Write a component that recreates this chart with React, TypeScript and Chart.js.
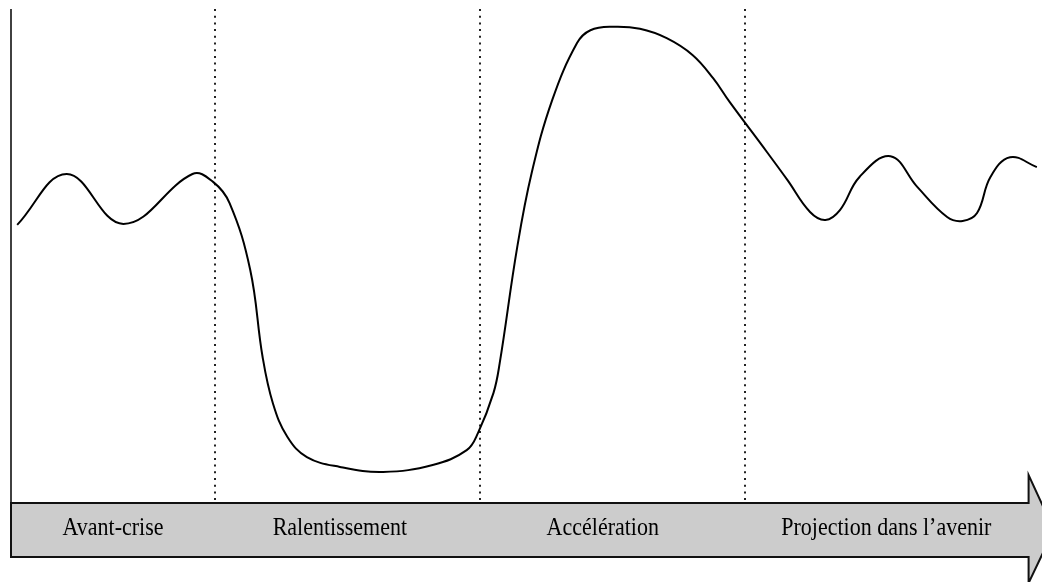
import React, { useEffect, useRef } from "react";
import { Chart, registerables } from "chart.js";

Chart.register(...registerables);

// Time axis (0–100) and activity level (0–100)
const timeX = [0.6, 5.4, 10.9, 17.6, 19.6, 21.2, 23.2, 24.4, 25.4, 26.8, 28.7, 31.9, 36.1, 40.9, 44.2, 45.3, 46.8, 47.4, 49.1, 50.5, 52.5, 54.9, 56.2, 58.4, 61.0, 63.6, 66.1, 68.1, 69.7, 73.3, 75.3, 77.5, 79.0, 80.4, 82.3, 85.3, 87.9, 90.8, 92.3, 93.7, 95.0, 96.9, 99.5];
const level = [56.3, 66.6, 56.5, 66.6, 65.0, 60.7, 47.2, 29.6, 20.2, 13.4, 9.3, 7.3, 6.3, 7.7, 10.7, 14.2, 22.3, 28.3, 51.8, 66.8, 81.6, 93.1, 95.7, 96.4, 96.0, 94.1, 90.7, 86.0, 81.2, 71.1, 65.4, 58.9, 57.3, 59.3, 66.0, 70.2, 64.0, 57.9, 57.1, 58.7, 66.0, 70.0, 68.0];

// Phase boundaries (dotted separators) and phase labels
const phaseDividers = [19.8, 45.5, 71.2];
const arrowBodyEnd = 98.7;
const phaseLabels = ["Avant-crise", "Ralentissement", "Accélération", "Projection dans l\u2019avenir"];
const phaseLabelX = [9.9, 31.9, 57.4, 84.9];

const decorPlugin = {
  id: "decor",
  beforeDatasetsDraw(chart: any) {
    const { ctx, chartArea, scales } = chart;
    const xs = scales.x;
    ctx.save();
    // y axis line
    ctx.strokeStyle = "#111";
    ctx.lineWidth = 1.6;
    ctx.beginPath();
    ctx.moveTo(chartArea.left, chartArea.top);
    ctx.lineTo(chartArea.left, chartArea.bottom);
    ctx.stroke();
    // dotted dividers
    ctx.strokeStyle = "#222";
    ctx.lineWidth = 2;
    ctx.setLineDash([2, 4.7]);
    phaseDividers.forEach((v) => {
      const px = Math.round(xs.getPixelForValue(v));
      ctx.beginPath();
      ctx.moveTo(px, chartArea.top);
      ctx.lineTo(px, chartArea.bottom);
      ctx.stroke();
    });
    ctx.restore();
  },
  afterDraw(chart: any) {
    const { ctx, chartArea, scales } = chart;
    const xs = scales.x;
    const top = chartArea.bottom;
    const bottom = top + 54;
    const mid = (top + bottom) / 2;
    const left = chartArea.left;
    const bodyEnd = xs.getPixelForValue(arrowBodyEnd);
    const headTop = top - 28;
    const headBottom = bottom + 26;
    const tipX = bodyEnd + (mid - headTop) / 2.18;
    ctx.save();
    ctx.beginPath();
    ctx.moveTo(left, top);
    ctx.lineTo(bodyEnd, top);
    ctx.lineTo(bodyEnd, headTop);
    ctx.lineTo(tipX, mid);
    ctx.lineTo(bodyEnd, headBottom);
    ctx.lineTo(bodyEnd, bottom);
    ctx.lineTo(left, bottom);
    ctx.closePath();
    ctx.fillStyle = "#cccccc";
    ctx.fill();
    ctx.strokeStyle = "#111";
    ctx.lineWidth = 2;
    ctx.lineJoin = "miter";
    ctx.stroke();
    // labels
    ctx.fillStyle = "#000";
    ctx.font = '22px "Liberation Serif", "Times New Roman", serif';
    ctx.textAlign = "center";
    ctx.textBaseline = "alphabetic";
    phaseLabels.forEach((t, i) => {
      const cx = xs.getPixelForValue(phaseLabelX[i]);
      ctx.save();
      ctx.translate(cx, top + 32);
      ctx.scale(1, 1.15);
      ctx.fillText(t, 0, 0);
      ctx.restore();
    });
    ctx.restore();
  },
};

export default function App() {
  const ref = useRef<HTMLCanvasElement>(null);
  useEffect(() => {
    document.body.style.margin = "0";
    if (!ref.current) return;
    const chart = new Chart(ref.current, {
      type: "line",
      data: {
        datasets: [
          {
            data: timeX.map((x, i) => ({ x, y: level[i] })),
            borderColor: "#000",
            borderWidth: 2,
            pointRadius: 0,
            fill: false,
            tension: 0.4,
          },
        ],
      },
      options: {
        animation: false,
        responsive: true,
        maintainAspectRatio: false,
        layout: { padding: { left: 11, top: 9, right: 0, bottom: 79 } },
        plugins: { legend: { display: false }, tooltip: { enabled: false } },
        scales: {
          x: { type: "linear", min: 0, max: 100, display: false },
          y: { type: "linear", min: 0, max: 100, display: false },
        },
      },
      plugins: [decorPlugin],
    });
    return () => chart.destroy();
  }, []);
  return (
    <div style={{ width: 1042, height: 582, position: "relative" }}>
      <canvas ref={ref} />
    </div>
  );
}
